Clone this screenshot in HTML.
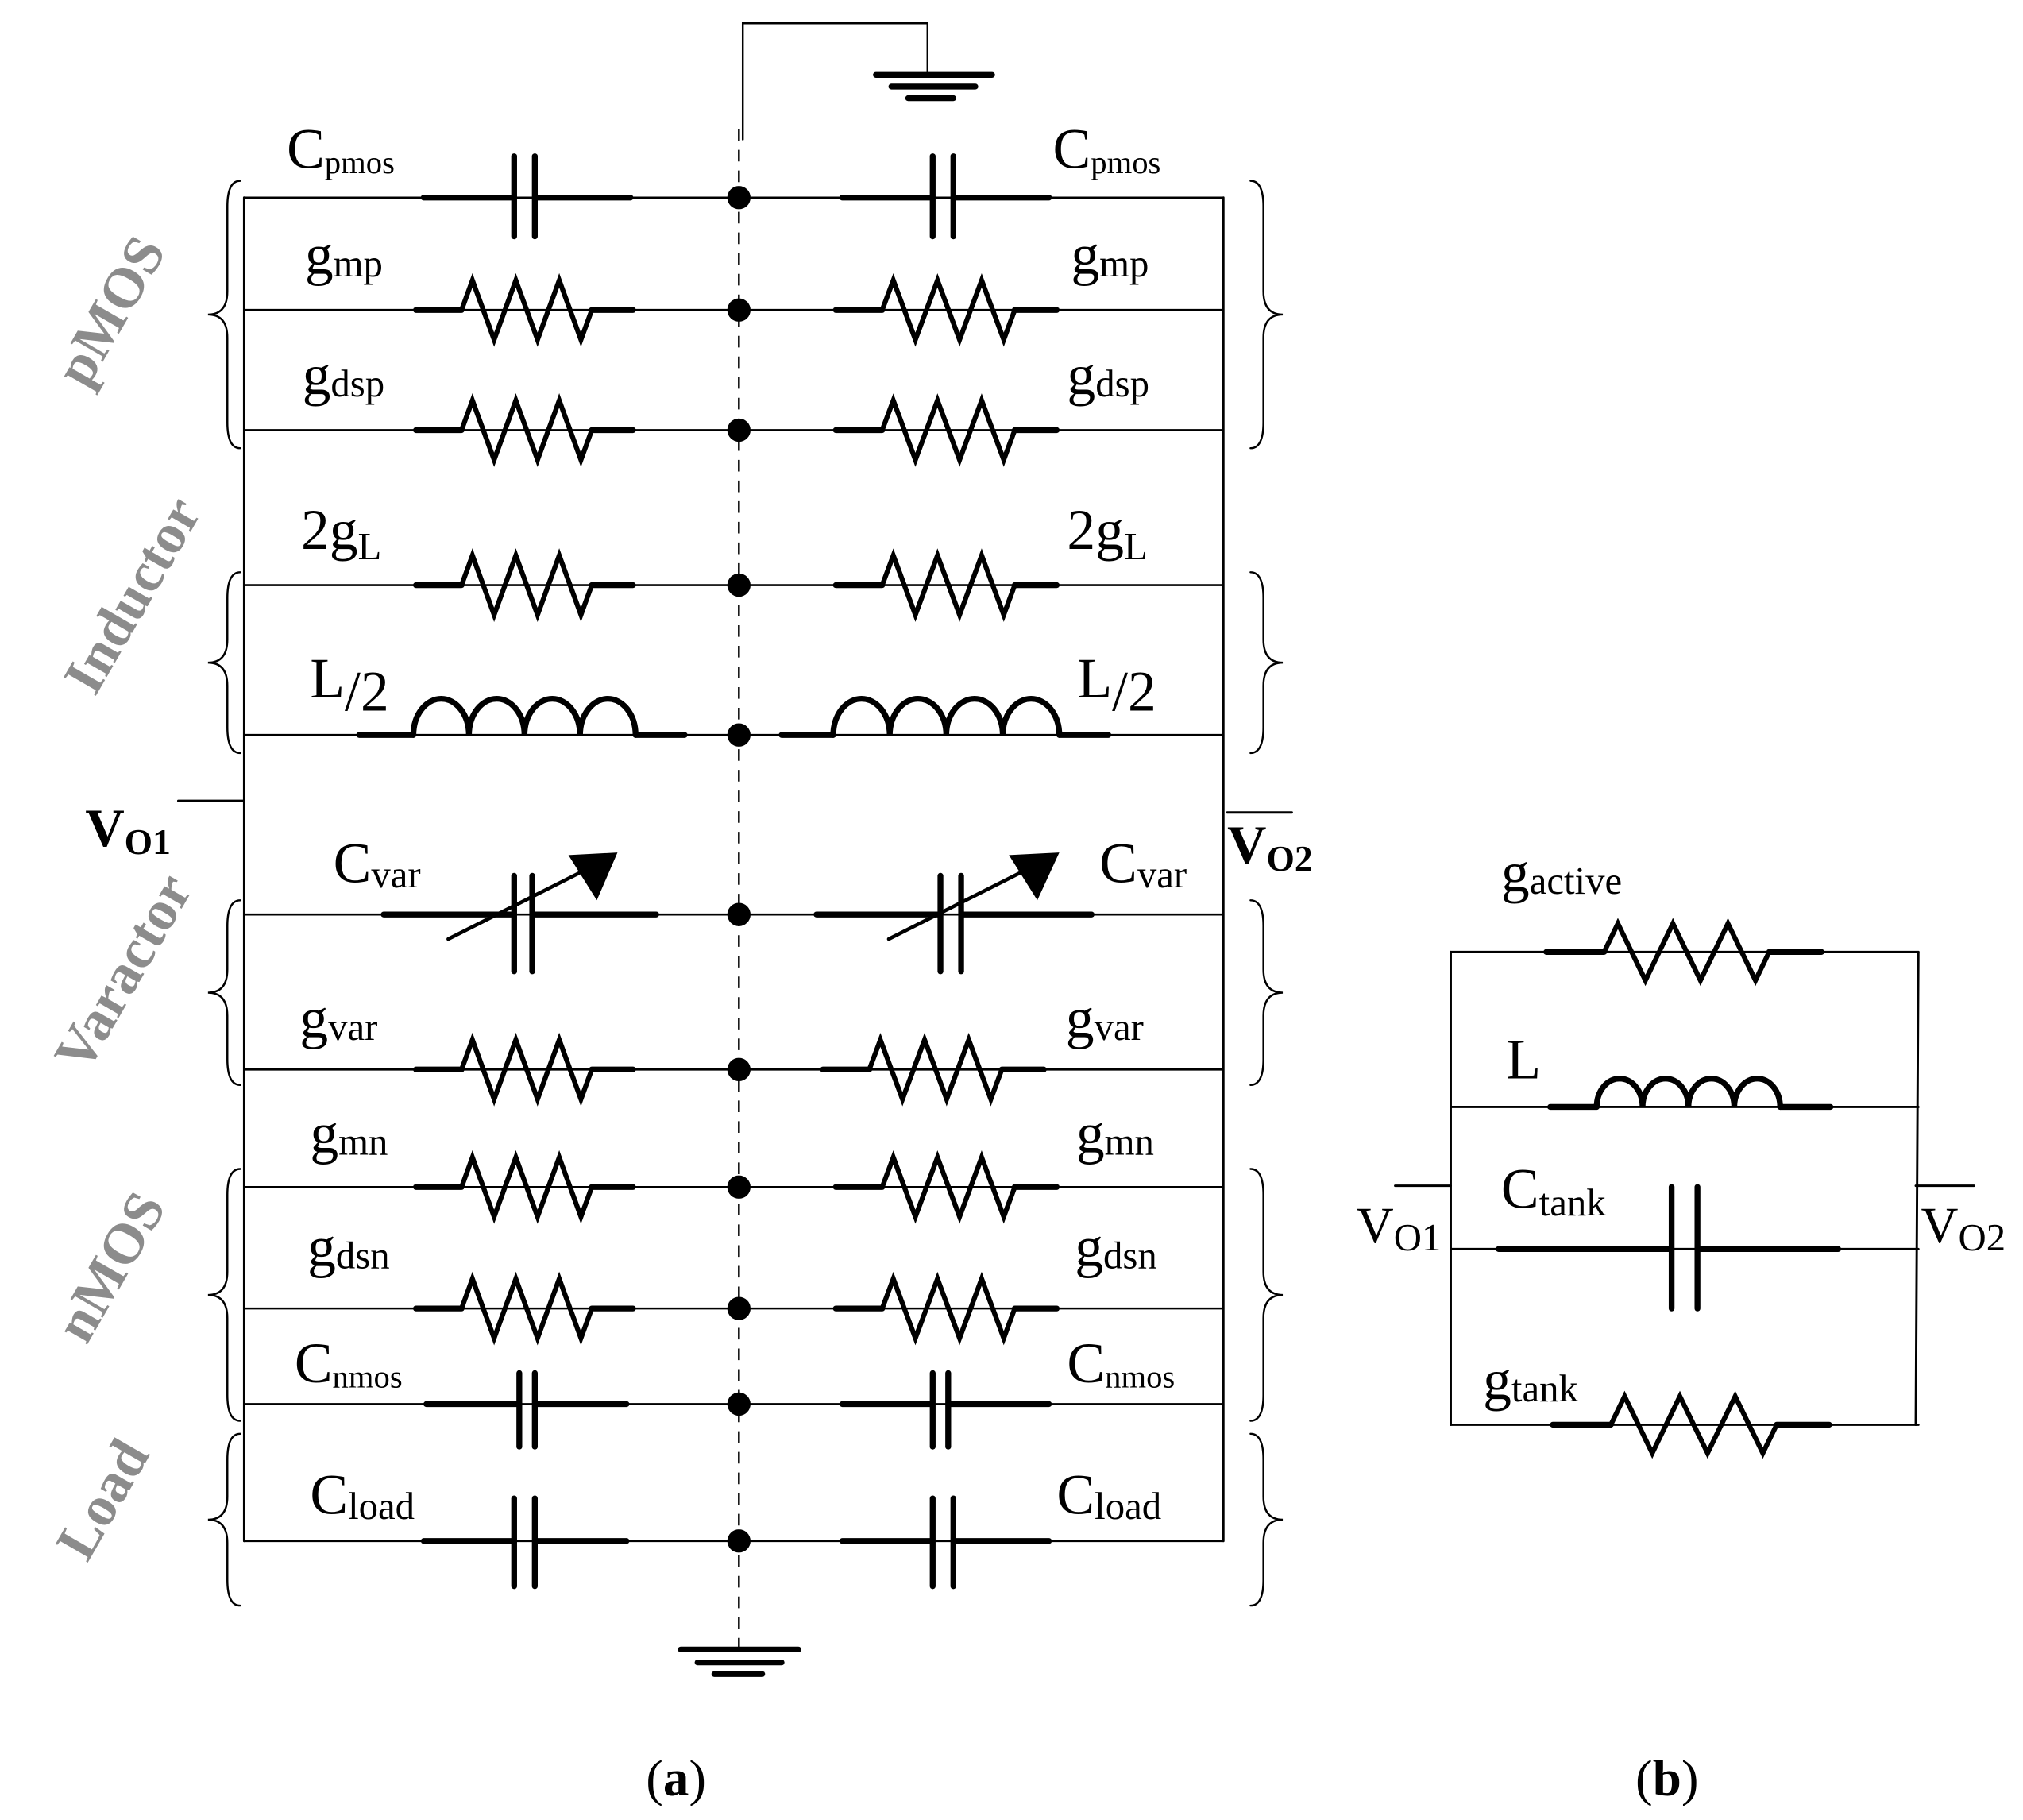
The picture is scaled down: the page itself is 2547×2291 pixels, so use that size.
<!DOCTYPE html>
<html><head><meta charset="utf-8">
<style>
html,body{margin:0;padding:0;background:#fff;}
svg{display:block;}
text{font-family:"Liberation Serif",serif;fill:#000;}
.m{font-size:44px;}
.s{font-size:30px;}
.t{font-size:25px;}
.g{font-family:"Liberation Serif",serif;font-weight:bold;font-size:44px;fill:#8c8c8c;}
</style></head>
<body>
<svg id="sv" width="2547" height="2291" viewBox="0 0 1566 1409" preserveAspectRatio="none" xmlns="http://www.w3.org/2000/svg">
<g id="shapes" fill="none" stroke="#000" stroke-linecap="round"></g>
<text x="222" y="130" class="m">C<tspan class="t" dy="4">pmos</tspan></text>
<text x="236" y="212" class="m">g<tspan class="s" dy="2">mp</tspan></text>
<text x="234" y="305" class="m">g<tspan class="s" dy="2">dsp</tspan></text>
<text x="233" y="425" class="m">2g<tspan class="s" dy="8">L</tspan></text>
<text x="240" y="540" class="m">L<tspan dy="10">/2</tspan></text>
<text x="258" y="683" class="m">C<tspan class="s" dy="4">var</tspan></text>
<text x="232" y="803" class="m">g<tspan class="s" dy="2">var</tspan></text>
<text x="240" y="892" class="m">g<tspan class="s" dy="2">mn</tspan></text>
<text x="238" y="980" class="m">g<tspan class="s" dy="2">dsn</tspan></text>
<text x="228" y="1070" class="m">C<tspan class="t" dy="4">nmos</tspan></text>
<text x="240" y="1172" class="m">C<tspan class="s" dy="4">load</tspan></text>
<text x="815" y="130" class="m">C<tspan class="t" dy="4">pmos</tspan></text>
<text x="829" y="212" class="m">g<tspan class="s" dy="2">mp</tspan></text>
<text x="826" y="305" class="m">g<tspan class="s" dy="2">dsp</tspan></text>
<text x="826" y="425" class="m">2g<tspan class="s" dy="8">L</tspan></text>
<text x="834" y="540" class="m">L<tspan dy="10">/2</tspan></text>
<text x="851" y="683" class="m">C<tspan class="s" dy="4">var</tspan></text>
<text x="825" y="803" class="m">g<tspan class="s" dy="2">var</tspan></text>
<text x="833" y="892" class="m">g<tspan class="s" dy="2">mn</tspan></text>
<text x="832" y="980" class="m">g<tspan class="s" dy="2">dsn</tspan></text>
<text x="826" y="1070" class="m">C<tspan class="t" dy="4">nmos</tspan></text>
<text x="818" y="1172" class="m">C<tspan class="s" dy="4">load</tspan></text>
<text class="g" text-anchor="middle" transform="translate(98,248) rotate(-60)">pMOS</text>
<text class="g" text-anchor="middle" transform="translate(115,468) rotate(-60)">Inductor</text>
<text class="g" text-anchor="middle" transform="translate(108,760) rotate(-60)">Varactor</text>
<text class="g" text-anchor="middle" transform="translate(98,988) rotate(-60)">nMOS</text>
<text class="g" text-anchor="middle" transform="translate(92,1168) rotate(-60)">Load</text>
<text x="66" y="655" style="font-size:42px;font-weight:bold">V<tspan style="font-size:28px" dy="6">O1</tspan></text>
<text x="950" y="668" style="font-size:42px;font-weight:bold">V<tspan style="font-size:28px" dy="6">O2</tspan></text>
<text x="1162" y="690" class="m">g<tspan class="s" dy="2">active</tspan></text>
<text x="1166" y="835" class="m">L</text>
<text x="1162" y="935" class="m">C<tspan class="s" dy="6">tank</tspan></text>
<text x="1148" y="1083" class="m">g<tspan class="s" dy="2">tank</tspan></text>
<text x="1050" y="962" style="font-size:40px">V<tspan class="s" dy="6">O1</tspan></text>
<text x="1487" y="962" style="font-size:40px">V<tspan class="s" dy="6">O2</tspan></text>
<text x="500" y="1390" style="font-size:40px">(<tspan font-weight="bold">a</tspan>)</text>
<text x="1266" y="1390" style="font-size:40px">(<tspan font-weight="bold">b</tspan>)</text>
</svg>
<script>
(function(){
var g=document.getElementById('shapes'),out='';
function L(x1,y1,x2,y2,w,extra){out+='<line x1="'+x1+'" y1="'+y1+'" x2="'+x2+'" y2="'+y2+'" stroke-width="'+w+'" '+(extra||'')+'/>';}
function P(d,w,extra){out+='<path d="'+d+'" stroke-width="'+w+'" '+(extra||'')+'/>';}
function res(a,c,y,A){
 var zs=a+(c-a)*0.21,ze=a+(c-a)*0.81;A=A||23;
 L(a,y,zs,y,4.5);L(ze,y,c,y,4.5);
 var w=ze-zs,d='M'+zs+' '+y;
 var pts=[[1/12,-A],[3/12,A],[5/12,-A],[7/12,A],[9/12,-A],[11/12,A],[1,0]];
 pts.forEach(function(p){d+=' L'+(zs+p[0]*w).toFixed(1)+' '+(y+p[1]);});
 P(d,3.8,'stroke-linejoin="miter"');
}
function cap(a,p1,p2,b,y,h1,h2){L(a,y,p1,y,4.5);L(p2,y,b,y,4.5);L(p1,y-h1,p1,y+h2,4.5);L(p2,y-h1,p2,y+h2,4.5);}
function ind(a,s,e,b,y,h){L(a,y,s,y,4.5);L(e,y,b,y,4.5);var w=(e-s)/4,d='M'+s+' '+y;for(var i=0;i<4;i++){d+=' a'+(w/2)+' '+h+' 0 0 1 '+w+' 0';}P(d,4.5);}
P('M575 108 L575 18 L718 18 L718 58',1.5);
L(678,58,768,58,4.5);L(690,67,755,67,4.5);L(703,76,738,76,4.5);
L(527,1277,618,1277,4.5);L(540,1287,605,1287,4.5);L(553,1296,590,1296,4.5);
L(572,100,572,1275,1.5,'stroke-dasharray="9 7" stroke-linecap="butt"');
L(189,153,189,1193,1.8);L(947,153,947,1193,1.8);
var rows=[153,240,333,453,569,708,828,919,1013,1087,1193];
rows.forEach(function(y){L(189,y,947,y,1.6);out+='<circle cx="572" cy="'+y+'" r="9" fill="#000" stroke="none"/>';});
L(138,620,189,620,1.8);L(950,629,1000,629,1.8);
cap(328,398,414,488,153,32,30);cap(652,722,738,812,153,32,30);
res(322,490,240);res(647,818,240);
res(322,490,333);res(647,818,333);
res(322,490,453);res(647,818,453);
ind(278,320,492,530,569,28);ind(605,645,820,858,569,28);
cap(297,398,412,508,708,30,44);cap(632,728,744,845,708,30,44);
L(347,727,462,669,2.8);out+='<polygon points="440,662 478,660 462,697" fill="#000" stroke="none"/>';
L(688,727,803,669,2.8);out+='<polygon points="781,662 820,660 803,697" fill="#000" stroke="none"/>';
res(322,490,828);res(637,808,828);
res(322,490,919);res(647,818,919);
res(322,490,1013);res(647,818,1013);
cap(330,402,414,485,1087,24,33);cap(652,722,734,812,1087,24,33);
cap(328,398,414,485,1193,33,35);cap(652,722,738,812,1193,33,35);
function brace(x,y1,y2,dir){var m=(y1+y2)/2,t=x-dir*25,c=x-dir*10;
 P('M'+x+' '+y1+' Q'+c+' '+y1+' '+c+' '+(y1+20)+' L'+c+' '+(m-18)+' Q'+c+' '+m+' '+t+' '+m+' Q'+c+' '+m+' '+c+' '+(m+18)+' L'+c+' '+(y2-20)+' Q'+c+' '+y2+' '+x+' '+y2,1.5);}
[[140,347],[443,583],[697,840],[905,1100],[1110,1243]].forEach(function(r){brace(186,r[0],r[1],1);brace(968,r[0],r[1],-1);});
L(1123,737,1123,1103,1.8);L(1485,737,1483,1103,1.8);
[737,857,967,1103].forEach(function(y){L(1123,y,1485,y,1.8);});
L(1080,918,1123,918,1.8);L(1483,918,1528,918,1.8);
res(1197,1410,737,22);
ind(1200,1236,1378,1417,857,22);
cap(1160,1294,1314,1423,967,48,46);
res(1202,1416,1103,22);
g.innerHTML=out;
})();
</script>
</body></html>
